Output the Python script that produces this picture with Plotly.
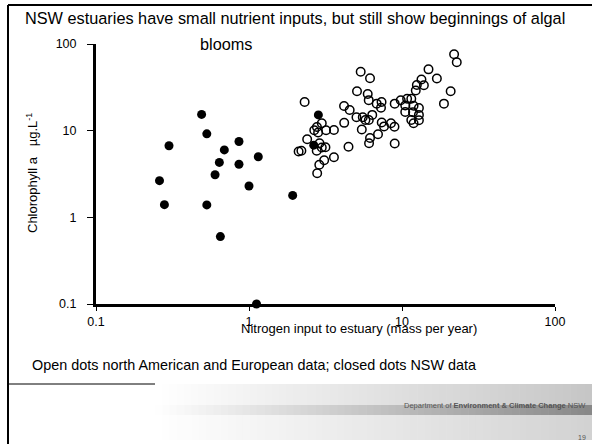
import plotly.graph_objects as go

# NSW estuaries (closed dots)
nsw_nitrogen = [0.49, 0.53, 0.30, 0.86, 0.69, 0.64, 0.86, 1.15, 0.60, 0.26,
                1.00, 0.28, 0.53, 0.65, 1.93, 2.84, 2.65, 1.12]
nsw_chla = [15.4, 9.2, 6.7, 7.5, 6.0, 4.3, 4.1, 5.0, 3.1, 2.65,
            2.3, 1.40, 1.39, 0.60, 1.79, 15.2, 6.8, 0.10]

# North American and European estuaries (open dots)
other_nitrogen = [21.9, 22.8, 14.9, 16.9, 13.4, 12.5, 13.9, 12.3, 20.8, 18.8,
                  5.37, 6.18, 5.08, 5.97, 6.06, 4.18, 4.55, 6.83, 7.35, 7.29,
                  8.96, 9.81, 10.8, 11.5, 10.5, 11.9, 12.9, 10.5, 11.8, 12.9,
                  5.04, 5.54, 5.77, 6.07, 6.39, 4.19, 7.37, 7.63, 8.47, 8.93,
                  11.5, 12.9, 11.9, 3.59, 5.46, 6.97, 6.18, 6.09, 8.96, 4.47,
                  3.59, 2.31, 2.99, 2.78, 2.67, 2.83, 3.19, 2.40, 2.89, 2.99,
                  3.16, 2.77, 2.11, 2.20, 3.10, 2.88, 2.79]
other_chla = [76.0, 61.5, 51.0, 40.0, 38.9, 33.6, 33.4, 29.1, 28.5, 20.5,
              47.9, 40.2, 28.5, 26.5, 22.5, 19.3, 17.3, 20.5, 21.4, 18.4,
              20.5, 22.4, 23.4, 23.4, 19.5, 19.4, 18.3, 16.4, 16.3, 15.2,
              14.3, 14.3, 13.3, 13.3, 15.2, 12.3, 12.4, 11.2, 12.2, 11.1,
              13.3, 13.2, 12.2, 10.2, 10.3, 9.10, 8.23, 7.17, 7.11, 6.51,
              4.93, 21.4, 12.2, 11.0, 10.1, 9.52, 10.1, 7.95, 7.17, 6.39,
              6.43, 5.86, 5.75, 5.87, 4.55, 4.04, 3.23]

tick_vals = [0.1, 1, 10, 100]
tick_text = ["0.1", "1", "10", "100"]

W, H = 592, 444
L, R, T, B = 96, 555, 44, 304
FONT = "Liberation Sans, Arial, sans-serif"


def px(x):
    return (x - L) / (R - L)


def py(y):
    return (B - y) / (B - T)


fig = go.Figure()
fig.add_trace(go.Scatter(
    x=other_nitrogen, y=other_chla, mode="markers", cliponaxis=False,
    marker=dict(symbol="circle-open", size=8.5, color="black", line=dict(width=1.5, color="black")),
    showlegend=False, hoverinfo="x+y"))
fig.add_trace(go.Scatter(
    x=nsw_nitrogen, y=nsw_chla, mode="markers", cliponaxis=False,
    marker=dict(symbol="circle", size=9, color="black"),
    showlegend=False, hoverinfo="x+y"))

axis_common = dict(
    type="log", range=[-1, 2], showgrid=False, zeroline=False,
    showline=True, linewidth=3, linecolor="black",
    ticks="outside", tickwidth=1, tickcolor="black",
    tickvals=tick_vals, ticktext=tick_text,
    tickfont=dict(family=FONT, size=12.5, color="black"),
)
fig.update_xaxes(**axis_common, ticklen=4)
fig.update_yaxes(**axis_common, ticklen=6, ticklabelstandoff=8)

shapes = []
# slide frame
shapes.append(dict(type="line", xref="paper", yref="paper",
                   x0=px(8), x1=px(592), y0=py(5), y1=py(5),
                   line=dict(color="black", width=2)))
shapes.append(dict(type="line", xref="paper", yref="paper",
                   x0=px(8), x1=px(8), y0=py(5), y1=py(444),
                   line=dict(color="black", width=2)))
shapes.append(dict(type="line", xref="paper", yref="paper",
                   x0=px(8), x1=px(155), y0=py(384), y1=py(384),
                   line=dict(color="black", width=1)))

# footer gradient banner
N = 60
x_start, x_end = 155, 592
bands = [(384, 405, 198), (405, 415, 135), (415, 440, 210)]
for i in range(N):
    x0 = x_start + (x_end - x_start) * i / N
    x1 = x_start + (x_end - x_start) * (i + 1) / N + 0.6
    t = (i + 0.5) / N
    for y0, y1, endval in bands:
        v = int(round(255 - (255 - endval) * t))
        shapes.append(dict(type="rect", xref="paper", yref="paper",
                           x0=px(x0), x1=px(x1), y0=py(y1), y1=py(y0),
                           line=dict(width=0), fillcolor=f"rgb({v},{v},{v})",
                           layer="below"))

annotations = [
    dict(text="NSW estuaries have small nutrient inputs, but still show beginnings of algal",
         x=px(23), y=py(18), xanchor="left", yanchor="middle",
         font=dict(family=FONT, size=16.3, color="black")),
    dict(text="blooms", x=px(226), y=py(44), xanchor="center", yanchor="middle",
         font=dict(family=FONT, size=16.3, color="black")),
    dict(text="Chlorophyll a   µg.L<sup>-1</sup>", x=px(32), y=py(173), textangle=-90,
         xanchor="center", yanchor="middle",
         font=dict(family=FONT, size=13, color="black")),
    dict(text="Nitrogen input to estuary (mass per year)", x=px(359), y=py(328),
         xanchor="center", yanchor="middle",
         font=dict(family=FONT, size=13, color="black")),
    dict(text="Open dots north American and European data; closed dots NSW data",
         x=px(30), y=py(365), xanchor="left", yanchor="middle",
         font=dict(family=FONT, size=14.4, color="black")),
    dict(text="Department of <b>Environment &amp; Climate Change</b> NSW",
         x=px(588), y=py(405), xanchor="right", yanchor="middle",
         font=dict(family=FONT, size=7.5, color="#555555")),
    dict(text="19", x=px(588), y=py(437), xanchor="right", yanchor="middle",
         font=dict(family=FONT, size=7, color="#555555")),
]
for a in annotations:
    a.update(xref="paper", yref="paper", showarrow=False)

fig.update_layout(
    width=W, height=H,
    margin=dict(l=L, r=W - R, t=T, b=H - B, pad=0),
    paper_bgcolor="white", plot_bgcolor="white",
    shapes=shapes, annotations=annotations,
    showlegend=False,
)

fig.write_html("out.html")
